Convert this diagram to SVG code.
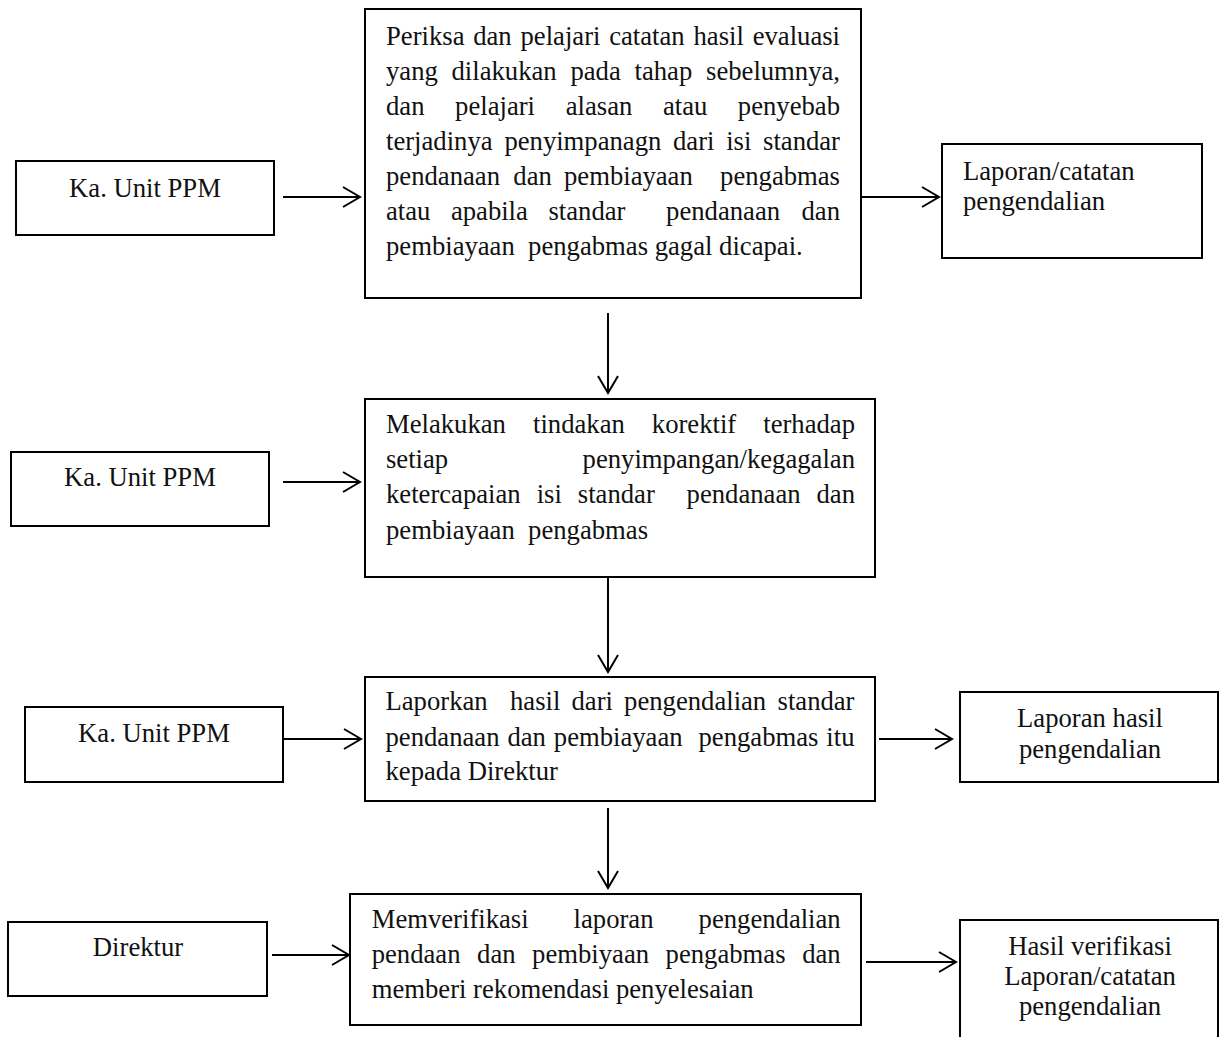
<svg xmlns="http://www.w3.org/2000/svg" width="1226" height="1037" viewBox="0 0 1226 1037">
<style>
  .box{fill:#fff;stroke:#000;stroke-width:2}
  .t{font-family:"Liberation Serif","Times New Roman",serif;font-size:26.67px;fill:#111}
  .c{text-anchor:middle}
  .e{text-anchor:end}
  .con{stroke:#000;stroke-width:2;fill:none}
</style>
<defs>
  <marker id="ah" markerUnits="userSpaceOnUse" markerWidth="24" markerHeight="24" viewBox="-20 -12 24 24" refX="0" refY="0" orient="auto">
    <path d="M-17,-10 L0,0 L-17,10" fill="none" stroke="#000" stroke-width="2"/>
  </marker>
</defs>
<rect width="1226" height="1037" fill="#fff"/>

<g id="actor1">
  <rect class="box" x="16" y="161" width="258" height="74"/>
  <text class="t c" x="145" y="197">Ka. Unit PPM</text>
</g>
<g id="step1">
  <rect class="box" x="365" y="9" width="496" height="289"/>
  <text class="t" y="45"><tspan x="386">Periksa</tspan><tspan x="473.2">dan</tspan><tspan x="520.5">pelajari</tspan><tspan x="609.2">catatan</tspan><tspan x="693.5">hasil</tspan><tspan class="e" x="840">evaluasi</tspan></text>
  <text class="t" y="80"><tspan x="386">yang</tspan><tspan x="451.5">dilakukan</tspan><tspan x="570.4">pada</tspan><tspan x="634.5">tahap</tspan><tspan class="e" x="840">sebelumnya,</tspan></text>
  <text class="t" y="115"><tspan x="386">dan</tspan><tspan x="455.1">pelajari</tspan><tspan x="565.7">alasan</tspan><tspan x="662.9">atau</tspan><tspan class="e" x="840">penyebab</tspan></text>
  <text class="t" y="150"><tspan x="386">terjadinya</tspan><tspan x="504.4">penyimpanagn</tspan><tspan x="673">dari</tspan><tspan x="726.2">isi</tspan><tspan class="e" x="840">standar</tspan></text>
  <text class="t" y="185"><tspan x="386">pendanaan</tspan><tspan x="513.3">dan</tspan><tspan x="564">pembiayaan</tspan><tspan class="e" x="840">pengabmas</tspan></text>
  <text class="t" y="220"><tspan x="386">atau</tspan><tspan x="450.9">apabila</tspan><tspan x="548.5">standar</tspan><tspan x="666.1">pendanaan</tspan><tspan class="e" x="840">dan</tspan></text>
  <text class="t" y="255" xml:space="preserve" x="386">pembiayaan  pengabmas gagal dicapai.</text>
</g>
<g id="output1">
  <rect class="box" x="942" y="144" width="260" height="114"/>
  <text class="t" x="963" y="180">Laporan/catatan</text>
  <text class="t" x="963" y="210">pengendalian</text>
</g>

<g id="actor2">
  <rect class="box" x="11" y="452" width="258" height="74"/>
  <text class="t c" x="140" y="486">Ka. Unit PPM</text>
</g>
<g id="step2">
  <rect class="box" x="365" y="399" width="510" height="178"/>
  <text class="t" y="433"><tspan x="386">Melakukan</tspan><tspan x="533">tindakan</tspan><tspan x="651.8">korektif</tspan><tspan class="e" x="855">terhadap</tspan></text>
  <text class="t" y="468"><tspan x="386">setiap</tspan><tspan class="e" x="855">penyimpangan/kegagalan</tspan></text>
  <text class="t" y="503"><tspan x="386">ketercapaian</tspan><tspan x="536.7">isi</tspan><tspan x="577.8">standar</tspan><tspan x="686.6">pendanaan</tspan><tspan class="e" x="855">dan</tspan></text>
  <text class="t" y="539" xml:space="preserve" x="386">pembiayaan  pengabmas</text>
</g>

<g id="actor3">
  <rect class="box" x="25" y="707" width="258" height="75"/>
  <text class="t c" x="154" y="742">Ka. Unit PPM</text>
</g>
<g id="step3">
  <rect class="box" x="365" y="677" width="510" height="124"/>
  <text class="t" y="710"><tspan x="385.5">Laporkan</tspan><tspan x="510">hasil</tspan><tspan x="571.5">dari</tspan><tspan x="624.1">pengendalian</tspan><tspan class="e" x="854.5">standar</tspan></text>
  <text class="t" y="746"><tspan x="385.5">pendanaan</tspan><tspan x="507.4">dan</tspan><tspan x="553.8">pembiayaan</tspan><tspan x="698.5">pengabmas</tspan><tspan class="e" x="854.5">itu</tspan></text>
  <text class="t" x="385.5" y="780">kepada Direktur</text>
</g>
<g id="output3">
  <rect class="box" x="960" y="692" width="258" height="90"/>
  <text class="t c" x="1090" y="727">Laporan hasil</text>
  <text class="t c" x="1090" y="758">pengendalian</text>
</g>

<g id="actor4">
  <rect class="box" x="8" y="922" width="259" height="74"/>
  <text class="t c" x="138" y="956">Direktur</text>
</g>
<g id="step4">
  <rect class="box" x="350" y="894" width="511" height="131"/>
  <text class="t" y="928"><tspan x="371.7">Memverifikasi</tspan><tspan x="573.6">laporan</tspan><tspan class="e" x="840.7">pengendalian</tspan></text>
  <text class="t" y="963"><tspan x="371.7">pendaan</tspan><tspan x="477.1">dan</tspan><tspan x="532.1">pembiyaan</tspan><tspan x="665.6">pengabmas</tspan><tspan class="e" x="840.7">dan</tspan></text>
  <text class="t" x="371.7" y="998">memberi rekomendasi penyelesaian</text>
</g>
<g id="output4">
  <rect class="box" x="960" y="920" width="258" height="130"/>
  <text class="t c" x="1090" y="955">Hasil verifikasi</text>
  <text class="t c" x="1090" y="985">Laporan/catatan</text>
  <text class="t c" x="1090" y="1015">pengendalian</text>
</g>

<g id="connectors">
  <line class="con" x1="283" y1="197" x2="360" y2="197" marker-end="url(#ah)"/>
  <line class="con" x1="861" y1="197" x2="939" y2="197" marker-end="url(#ah)"/>
  <line class="con" x1="608" y1="313" x2="608" y2="393" marker-end="url(#ah)"/>
  <line class="con" x1="283" y1="482" x2="360" y2="482" marker-end="url(#ah)"/>
  <line class="con" x1="608" y1="577" x2="608" y2="672" marker-end="url(#ah)"/>
  <line class="con" x1="283" y1="739" x2="361" y2="739" marker-end="url(#ah)"/>
  <line class="con" x1="879" y1="739" x2="952" y2="739" marker-end="url(#ah)"/>
  <line class="con" x1="608" y1="808" x2="608" y2="888" marker-end="url(#ah)"/>
  <line class="con" x1="272" y1="955" x2="349" y2="955" marker-end="url(#ah)"/>
  <line class="con" x1="866" y1="962" x2="956" y2="962" marker-end="url(#ah)"/>
</g>
</svg>
